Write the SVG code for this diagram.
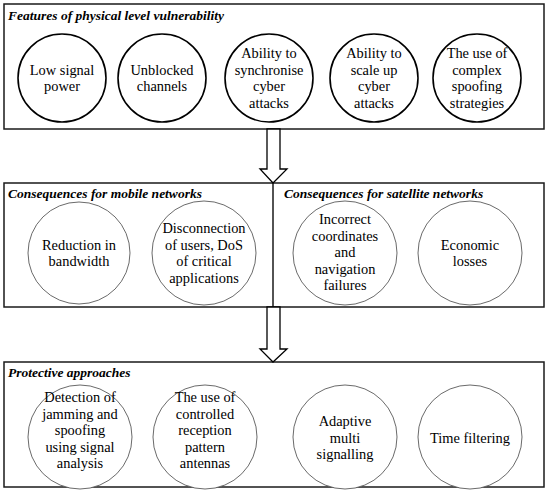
<svg xmlns="http://www.w3.org/2000/svg" width="550" height="493" viewBox="0 0 550 493">
<style>
.box{fill:none;stroke:#1a1a1a;stroke-width:1.5}
.title{font-family:"Liberation Serif","Times New Roman",serif;font-weight:bold;font-style:italic;font-size:13.5px;fill:#000}
.t{font-family:"Liberation Serif","Times New Roman",serif;font-size:14.4px;fill:#000;text-anchor:middle}
.c1{fill:#fff;stroke:#000;stroke-width:1.6}
.c2{fill:#fff;stroke:#444;stroke-width:0.8}
.arrow{fill:#fff;stroke:#000;stroke-width:1.3;stroke-linejoin:miter}
</style>
<rect width="550" height="493" fill="#fff"/>
<g id="features">
<rect class="box" x="4" y="4" width="540" height="125"/>
<text class="title" x="8" y="20">Features of physical level vulnerability</text>
</g>
<g id="f1"><circle class="c1" cx="62" cy="78" r="44"/><text class="t" x="62" y="75">Low signal</text><text class="t" x="62" y="91">power</text></g>
<g id="f2"><circle class="c1" cx="162" cy="78" r="44"/><text class="t" x="162" y="75">Unblocked</text><text class="t" x="162" y="91">channels</text></g>
<g id="f3"><circle class="c1" cx="269" cy="78" r="44"/><text class="t" x="269" y="58">Ability to</text><text class="t" x="269" y="74.5">synchronise</text><text class="t" x="269" y="91">cyber</text><text class="t" x="269" y="107.5">attacks</text></g>
<g id="f4"><circle class="c1" cx="374" cy="78" r="44"/><text class="t" x="374" y="58">Ability to</text><text class="t" x="374" y="74.5">scale up</text><text class="t" x="374" y="91">cyber</text><text class="t" x="374" y="107.5">attacks</text></g>
<g id="f5"><circle class="c1" cx="477" cy="78" r="44"/><text class="t" x="477" y="58">The use of</text><text class="t" x="477" y="74.5">complex</text><text class="t" x="477" y="91">spoofing</text><text class="t" x="477" y="107.5">strategies</text></g>

<g id="consequences">
<rect class="box" x="4" y="183" width="540" height="124"/>
<line class="box" x1="273" y1="183" x2="273" y2="307"/>
<text class="title" x="8" y="198">Consequences for mobile networks</text>
<text class="title" x="284" y="198">Consequences for satellite networks</text>
</g>
<g id="m1"><circle class="c2" cx="79" cy="253" r="51"/><text class="t" x="79" y="250">Reduction in</text><text class="t" x="79" y="266">bandwidth</text></g>
<g id="m2"><circle class="c2" cx="204" cy="253" r="52"/><text class="t" x="204" y="233">Disconnection</text><text class="t" x="204" y="249.5">of users, DoS</text><text class="t" x="204" y="266">of critical</text><text class="t" x="204" y="282.5">applications</text></g>
<g id="s1"><circle class="c2" cx="345" cy="253" r="52"/><text class="t" x="345" y="224">Incorrect</text><text class="t" x="345" y="240.5">coordinates</text><text class="t" x="345" y="257">and</text><text class="t" x="345" y="273.5">navigation</text><text class="t" x="345" y="290">failures</text></g>
<g id="s2"><circle class="c2" cx="470" cy="253" r="52"/><text class="t" x="470" y="250">Economic</text><text class="t" x="470" y="266">losses</text></g>

<g id="protective">
<rect class="box" x="4" y="362" width="540" height="125"/>
<text class="title" x="8" y="377">Protective approaches</text>
</g>
<g id="p1"><circle class="c2" cx="80" cy="437" r="52"/><text class="t" x="80" y="402">Detection of</text><text class="t" x="80" y="418.5">jamming and</text><text class="t" x="80" y="435">spoofing</text><text class="t" x="80" y="451.5">using signal</text><text class="t" x="80" y="468">analysis</text></g>
<g id="p2"><circle class="c2" cx="205" cy="437" r="52"/><text class="t" x="205" y="402">The use of</text><text class="t" x="205" y="418.5">controlled</text><text class="t" x="205" y="435">reception</text><text class="t" x="205" y="451.5">pattern</text><text class="t" x="205" y="468">antennas</text></g>
<g id="p3"><circle class="c2" cx="345" cy="437" r="52"/><text class="t" x="345" y="426">Adaptive</text><text class="t" x="345" y="442.5">multi</text><text class="t" x="345" y="459">signalling</text></g>
<g id="p4"><circle class="c2" cx="470" cy="437" r="52"/><text class="t" x="470" y="443">Time filtering</text></g>

<g id="connectors">
<polygon class="arrow" points="267,129 267,169 260,169 273,183 287,169 280,169 280,129"/>
<polygon class="arrow" points="267,307 267,349 260,349 273,362 287,349 280,349 280,307"/>
</g>
</svg>
